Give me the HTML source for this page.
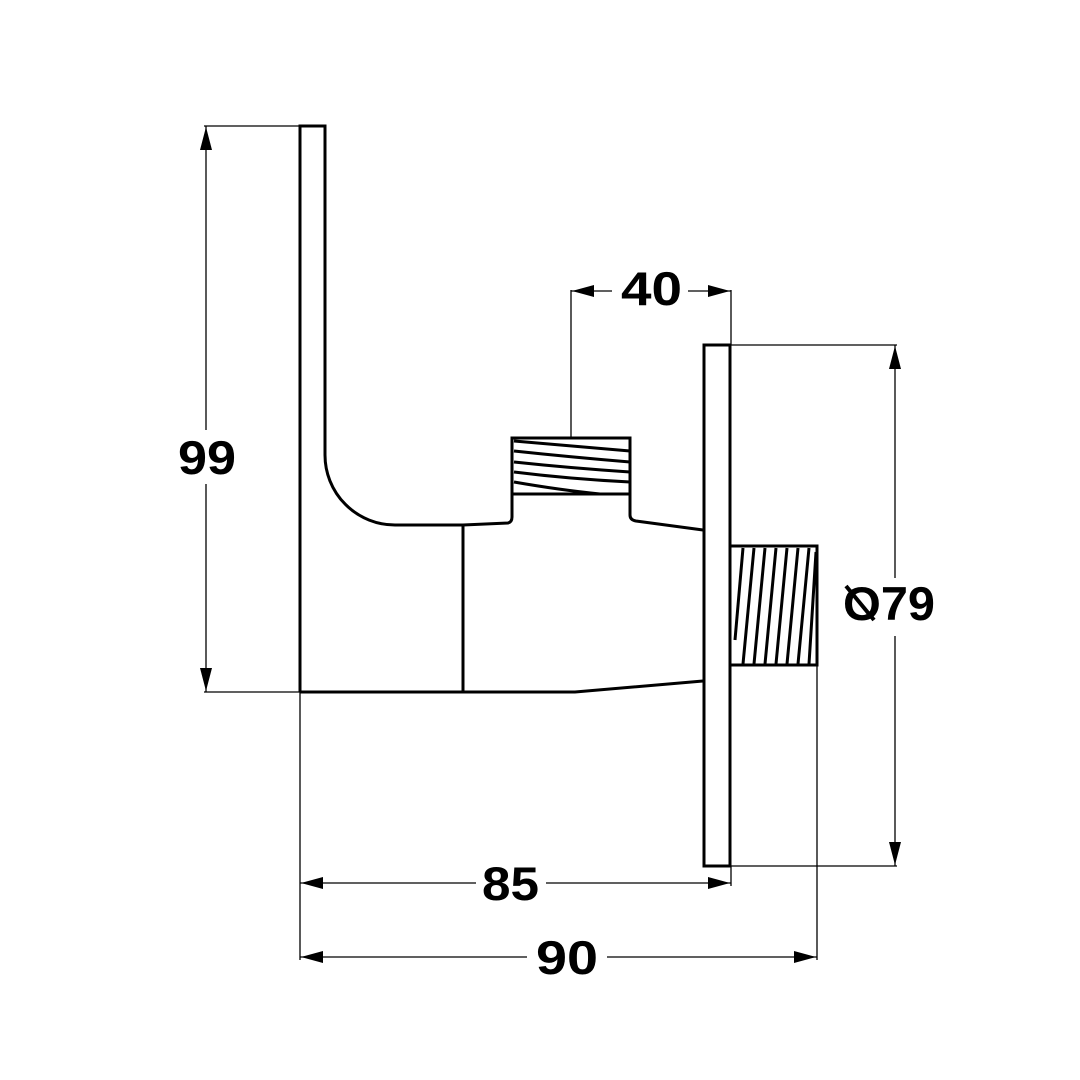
<!DOCTYPE html>
<html><head><meta charset="utf-8"><style>
html,body{margin:0;padding:0;background:#fff;}
svg{display:block;}
text{font-family:"Liberation Sans",sans-serif;font-weight:bold;font-size:47px;fill:#000;}
</style></head><body>
<svg width="1080" height="1080" viewBox="0 0 1080 1080" xmlns="http://www.w3.org/2000/svg">
<g fill="none" stroke="#000" stroke-width="3">
 <path d="M300,692 L300,126 L325,126 L325,455 A70,70 0 0 0 395,525 L463,525 L508,523 Q512,522 512,517 L512,438 L630,438 L630,515 Q630,520 636,521 L703,530"/>
 <line x1="463" y1="525" x2="463" y2="692"/>
 <path d="M300,692 L575,692 L703,681"/>
 <path d="M512,494 L630,494"/>
 <path d="M514,441 Q570,446 630,451"/>
 <path d="M514,451 Q570,457 630,462"/>
 <path d="M514,462 Q570,468 630,472"/>
 <path d="M514,472 Q570,479 630,482"/>
 <path d="M514,482 Q560,490 600,494"/>
 <rect x="704" y="345" width="26" height="521"/>
 <path d="M731,546 L817,546 L817,665 L731,665"/>
 <g stroke-width="3">
 <line x1="743" y1="548" x2="735" y2="640"/>
 <line x1="754" y1="548" x2="743" y2="664"/>
 <line x1="765" y1="548" x2="754" y2="664"/>
 <line x1="776" y1="548" x2="765" y2="664"/>
 <line x1="787" y1="548" x2="776" y2="664"/>
 <line x1="798" y1="548" x2="787" y2="664"/>
 <line x1="809" y1="548" x2="798" y2="664"/>
 <line x1="816" y1="552" x2="809" y2="664"/>
 </g>
</g>
<g fill="none" stroke="#000" stroke-width="1.3">
 <line x1="204" y1="126" x2="300" y2="126"/>
 <line x1="204" y1="692" x2="300" y2="692"/>
 <line x1="206" y1="126" x2="206" y2="430"/>
 <line x1="206" y1="484" x2="206" y2="692"/>
 <line x1="571" y1="290" x2="571" y2="438"/>
 <line x1="731" y1="290" x2="731" y2="345"/>
 <line x1="571" y1="291" x2="612" y2="291"/>
 <line x1="688" y1="291" x2="731" y2="291"/>
 <line x1="731" y1="345" x2="897" y2="345"/>
 <line x1="731" y1="866" x2="897" y2="866"/>
 <line x1="895" y1="345" x2="895" y2="578"/>
 <line x1="895" y1="636" x2="895" y2="866"/>
 <line x1="300" y1="692" x2="300" y2="960"/>
 <line x1="731" y1="866" x2="731" y2="886"/>
 <line x1="817" y1="665" x2="817" y2="960"/>
 <line x1="300" y1="883" x2="476" y2="883"/>
 <line x1="546" y1="883" x2="731" y2="883"/>
 <line x1="300" y1="957" x2="527" y2="957"/>
 <line x1="607" y1="957" x2="817" y2="957"/>
</g>
<g fill="#000">
 <polygon points="206,127 200,150 212,150"/>
 <polygon points="206,691 200,668 212,668"/>
 <polygon points="572,291 594,285 594,297"/>
 <polygon points="730,291 708,285 708,297"/>
 <polygon points="895,346 889,369 901,369"/>
 <polygon points="895,865 889,842 901,842"/>
 <polygon points="301,883 323,877 323,889"/>
 <polygon points="730,883 708,877 708,889"/>
 <polygon points="301,957 323,951 323,963"/>
 <polygon points="816,957 794,951 794,963"/>
</g>
<text x="178" y="474" textLength="58" lengthAdjust="spacingAndGlyphs">99</text>
<text x="621" y="305" textLength="61" lengthAdjust="spacingAndGlyphs">40</text>
<text x="482" y="900" textLength="57" lengthAdjust="spacingAndGlyphs">85</text>
<text x="536" y="974" textLength="62" lengthAdjust="spacingAndGlyphs">90</text>
<text x="843" y="620" textLength="92" lengthAdjust="spacingAndGlyphs">O79</text>
<line x1="846" y1="586" x2="874" y2="620" stroke="#000" stroke-width="4"/>
</svg>
</body></html>
